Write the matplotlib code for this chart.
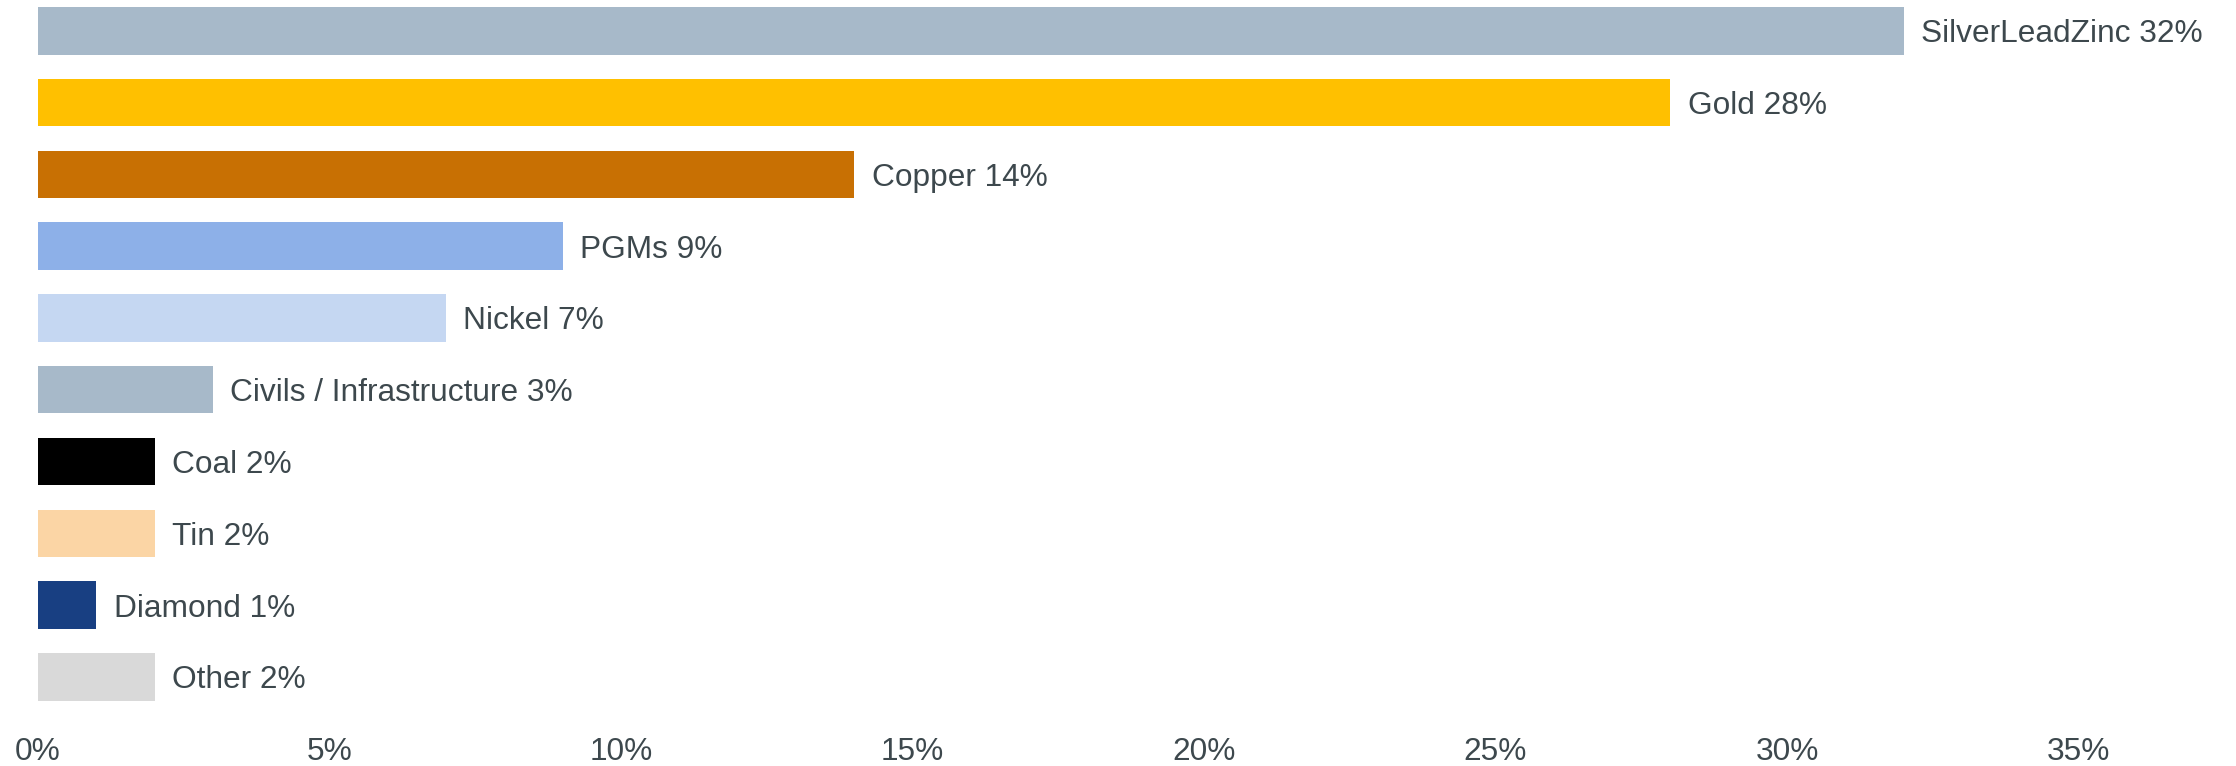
import matplotlib
matplotlib.use("Agg")
import matplotlib.pyplot as plt
from matplotlib.ticker import FuncFormatter, FixedLocator
from matplotlib.transforms import offset_copy

# Commodity exposure, share of total (%)
categories = ["SilverLeadZinc", "Gold", "Copper", "PGMs", "Nickel",
              "Civils / Infrastructure", "Coal", "Tin", "Diamond", "Other"]
shares = [32, 28, 14, 9, 7, 3, 2, 2, 1, 2]
bar_colors = ["#A7B9C9", "#FFC000", "#C87003", "#8DB0E8", "#C5D7F2",
              "#A7B9C9", "#000000", "#FBD5A5", "#183F82", "#D9D9D9"]
x_ticks = [0, 5, 10, 15, 20, 25, 30, 35]

TEXT = "#3D484D"
plt.rcParams["font.family"] = ["Liberation Sans", "DejaVu Sans"]

W, H, DPI = 2236, 766, 100
fig = plt.figure(figsize=(W / DPI, H / DPI), dpi=DPI)

left_px, plot_h_px = 38, 712
ax = fig.add_axes([left_px / W, (H - plot_h_px) / H,
                   (W - left_px) / W, plot_h_px / H])

y = list(range(len(categories)))
ax.barh(y, shares, height=0.66, color=bar_colors, linewidth=0)

# value labels just right of each bar
label_tf = offset_copy(ax.transData, fig=fig, x=12.5, y=0, units="points")
for yi, name, v in zip(y, categories, shares):
    ax.text(v, yi, f"{name} {v}%", transform=label_tf, ha="left",
            va="center_baseline", fontsize=22.8, color=TEXT)

ax.set_xlim(0, (W - left_px) / 58.3)
ax.set_ylim(9.49, -0.43)
ax.xaxis.set_major_locator(FixedLocator(x_ticks))
ax.xaxis.set_major_formatter(FuncFormatter(lambda v, p: f"{v:.0f}%"))
ax.tick_params(axis="x", length=0, pad=18, labelsize=22.8, labelcolor=TEXT)
ax.set_yticks([])
for s in ax.spines.values():
    s.set_visible(False)

fig.savefig("out.png", dpi=DPI, facecolor="white")
